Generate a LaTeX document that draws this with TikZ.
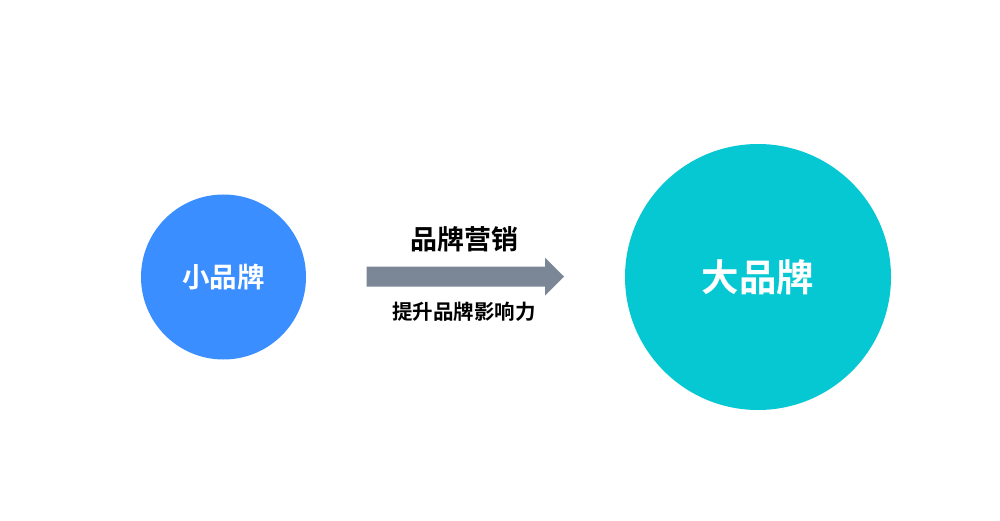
\documentclass[tikz,border=0pt]{standalone}
\usepackage{fontspec}
\newfontfamily\cjk{Noto Sans CJK SC Bold}
\definecolor{smallblue}{HTML}{3A8EFF}
\definecolor{bigteal}{HTML}{05C8D2}
\definecolor{arrowgray}{HTML}{7B8796}
\tikzset{
  brand/.style={circle, inner sep=0pt, text=white, font=\cjk},
  lbl/.style={inner sep=0pt, text=black, font=\cjk},
}
\begin{document}
\begin{tikzpicture}[x=1pt,y=-1pt]
\useasboundingbox[fill=white] (0,0) rectangle (1000,521);
\node[brand, fill=smallblue, minimum size=165pt, font=\cjk\fontsize{27.5}{30}\selectfont] (small) at (223.5,277) {小品牌};
\node[brand, fill=bigteal, minimum size=266pt, font=\cjk\fontsize{37.5}{40}\selectfont] (big) at (758,277) {大品牌};
\coordinate (a0) at (366.7,276.7);
\coordinate (a1) at (564,276.7);
\fill[arrowgray] (366.7,266.7) -- (545,266.7) -- (545,257.7) -- (564,276.5) -- (545,295.5) -- (545,286.7) -- (366.7,286.7) -- cycle;
\node[lbl, font=\cjk\fontsize{27}{30}\selectfont] (top) at (464,239) {品牌营销};
\node[lbl, font=\cjk\fontsize{20.5}{24}\selectfont] (bot) at (464,312) {提升品牌影响力};
\end{tikzpicture}
\end{document}
